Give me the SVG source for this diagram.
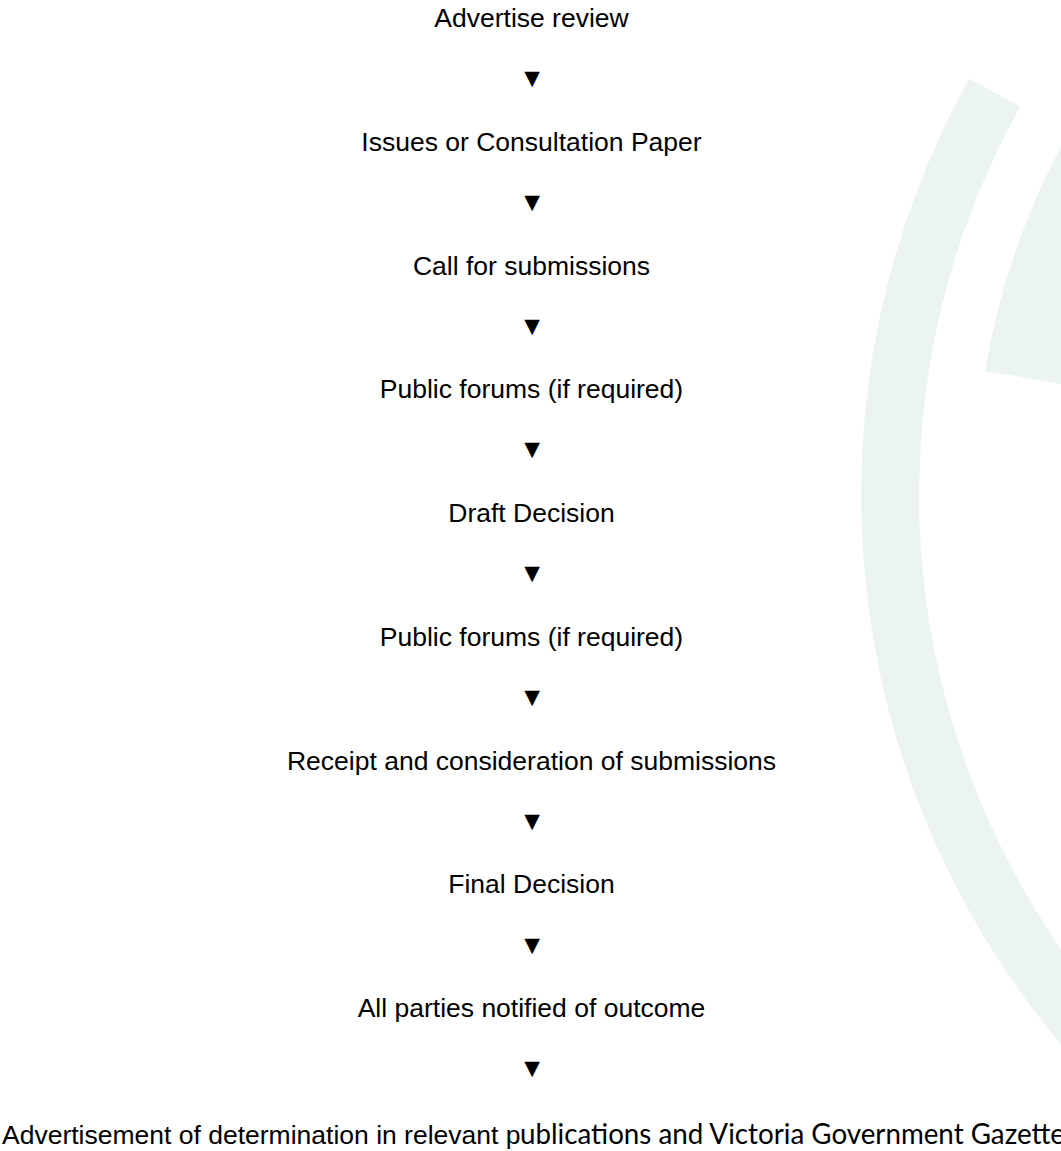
<svg xmlns="http://www.w3.org/2000/svg" width="1061" height="1151" viewBox="0 0 1061 1151">
<style>
.bg{fill:#ECF3F3;stroke:none}
.lbl{font-family:"Liberation Sans",Arial,sans-serif;font-size:26.5px;fill:#000;text-anchor:middle}
.arr{font-family:"Liberation Sans",Arial,sans-serif;font-size:26.5px;fill:#000;text-anchor:middle}
.cal{font-family:Lato,"Open Sans",sans-serif;font-size:29px;fill:#000}
</style>
<rect x="0" y="0" width="1061" height="1151" fill="#ffffff"/>
<g id="background">
<path class="bg" d="M 969.3,78.6 A 855 855 0 0 0 1061,1044.5 L 1061,949 A 797 797 0 0 1 1020,106.9 Z"/>
<path class="bg" d="M 1061,146.4 A 742 742 0 0 0 985,371 L 1061,383.9 Z"/>
</g>
<g id="connectors">
<text class="arr" x="532" y="87">▼</text>
<text class="arr" x="532" y="210.8">▼</text>
<text class="arr" x="532" y="334.6">▼</text>
<text class="arr" x="532" y="458.4">▼</text>
<text class="arr" x="532" y="582.2">▼</text>
<text class="arr" x="532" y="706">▼</text>
<text class="arr" x="532" y="829.8">▼</text>
<text class="arr" x="532" y="953.6">▼</text>
<text class="arr" x="532" y="1077.4">▼</text>
</g>
<g id="n1"><text class="lbl" x="531.5" y="27">Advertise review</text></g>
<g id="n2"><text class="lbl" x="531.5" y="150.75">Issues or Consultation Paper</text></g>
<g id="n3"><text class="lbl" x="531.5" y="274.5">Call for submissions</text></g>
<g id="n4"><text class="lbl" x="531.5" y="398.25">Public forums (if required)</text></g>
<g id="n5"><text class="lbl" x="531.5" y="522">Draft Decision</text></g>
<g id="n6"><text class="lbl" x="531.5" y="645.75">Public forums (if required)</text></g>
<g id="n7"><text class="lbl" x="531.5" y="769.5">Receipt and consideration of submissions</text></g>
<g id="n8"><text class="lbl" x="531.5" y="893.25">Final Decision</text></g>
<g id="n9"><text class="lbl" x="531.5" y="1017">All parties notified of outcome</text></g>
<g id="n10">
<text style="font-family:'Liberation Sans',Arial,sans-serif;font-size:26.5px;fill:#000" x="2" y="1144">Advertisement of determination in relevant p</text>
<text class="cal" x="520" y="1144" textLength="545" lengthAdjust="spacingAndGlyphs">ublications and Victoria Government Gazette</text>
</g>
</svg>
